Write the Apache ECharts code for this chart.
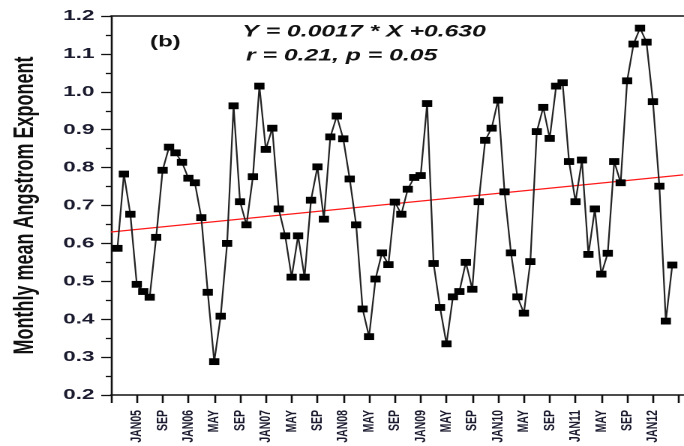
<!DOCTYPE html>
<html>
<head>
<meta charset="utf-8">
<script src="https://cdn.jsdelivr.net/npm/echarts@6/dist/echarts.min.js"></script>
<style>
  html, body { margin: 0; padding: 0; background: #fff; overflow: hidden; width: 684px; height: 446px; }
  #chart { width: 456px; height: 446px; transform: scaleX(1.5); transform-origin: 0 0; }
</style>
</head>
<body>
<div id="chart"></div>
<script>
// Monthly mean Angstrom Exponent (month index 1..87 from start of series)
const aeValues = [0.587,0.783,0.677,0.492,0.473,0.458,0.616,0.793,0.854,0.839,
  0.814,0.772,0.760,0.668,0.471,0.288,0.408,0.600,0.963,0.710,
  0.649,0.776,1.015,0.848,0.904,0.691,0.620,0.511,0.620,0.511,
  0.714,0.802,0.664,0.881,0.936,0.876,0.770,0.649,0.427,0.354,
  0.506,0.575,0.544,0.709,0.677,0.743,0.774,0.779,0.969,0.547,
  0.431,0.335,0.459,0.473,0.550,0.479,0.710,0.872,0.904,0.978,
  0.736,0.575,0.459,0.416,0.552,0.895,0.959,0.877,1.015,1.024,
  0.816,0.710,0.820,0.571,0.691,0.519,0.574,0.816,0.760,1.029,
  1.126,1.168,1.131,0.974,0.751,0.395,0.543];

// x tick labels at month index 4, 8, ..., 84
const tickLabels = ["JAN05","SEP","JAN06","MAY","SEP","JAN07","MAY","SEP","JAN08","MAY","SEP",
  "JAN09","MAY","SEP","JAN10","MAY","SEP","JAN11","MAY","SEP","JAN12"];
const tickStep = 4;
const xMax = 88.7;

// regression: Y = 0.0017 * X + 0.630
const regSlope = 0.0017;
const regIntercept = 0.630;

const seriesData = aeValues.map((v, i) => [i + 1, v]);
const regData = [[0, regIntercept], [xMax, regIntercept + regSlope * xMax]];

const tickVals = [];
for (let t = 0; t <= 88; t += tickStep) tickVals.push(t);
const labelVals = tickLabels.map((_, k) => (k + 1) * tickStep);

const chart = echarts.init(document.getElementById('chart'), null, { renderer: 'canvas', devicePixelRatio: 2 });
const FONT = '"Liberation Sans", Arial, sans-serif';

chart.setOption({
  animation: false,
  backgroundColor: '#fff',
  grid: { left: 71, top: 16, width: 384.5, height: 379, containLabel: false },
  xAxis: [{
    type: 'value', min: 0, max: xMax, interval: tickStep,
    axisLine: { show: true, onZero: false, lineStyle: { color: '#111', width: 1.5 } },
    axisTick: { show: true, inside: false, length: 8, lineStyle: { color: '#111', width: 1.3 }, customValues: tickVals },
    minorTick: { show: false },
    splitLine: { show: false },
    axisLabel: {
      customValues: labelVals,
      rotate: 90, margin: 15,
      fontFamily: FONT, fontWeight: 'bold', fontSize: 10.5, color: '#1b1b2f',
      showMaxLabel: true, showMinLabel: true, hideOverlap: false,
      formatter: function (v) {
        const k = Math.round(v / tickStep) - 1;
        if (Math.abs(v - (k + 1) * tickStep) > 1e-6) return '';
        return tickLabels[k] || '';
      }
    }
  }, {
    type: 'value', position: 'top', min: 0, max: xMax,
    axisLine: { show: true, onZero: false, lineStyle: { color: '#111', width: 1.5 } },
    axisTick: { show: false }, axisLabel: { show: false }, splitLine: { show: false }
  }],
  yAxis: {
    type: 'value', min: 0.2, max: 1.2, interval: 0.1,
    name: 'Monthly mean Angstrom Exponent',
    nameLocation: 'middle', nameGap: 48,
    nameTextStyle: { fontFamily: FONT, fontWeight: 'bold', fontSize: 18, color: '#111' },
    axisLine: { show: true, onZero: false, lineStyle: { color: '#111', width: 1.3 } },
    axisTick: { show: true, length: 6.5, lineStyle: { color: '#111', width: 1.3 } },
    minorTick: { show: true, splitNumber: 2, length: 3.5, lineStyle: { color: '#111', width: 1.3 } },
    splitLine: { show: false },
    axisLabel: {
      margin: 11, fontFamily: FONT, fontWeight: 'bold', fontSize: 15, color: '#1b1b2f',
      formatter: v => v.toFixed(1)
    }
  },
  graphic: [
    { type: 'text', z: 100, style: { text: '(b)', x: 100, y: 42, font: 'bold 16px ' + FONT, fill: '#111', align: 'left', verticalAlign: 'middle' } },
    { type: 'text', z: 100, style: { text: 'Y = 0.0017 * X +0.630', x: 161.5, y: 32, font: 'italic bold 16.5px ' + FONT, fill: '#111', align: 'left', verticalAlign: 'middle' } },
    { type: 'text', z: 100, style: { text: 'r = 0.21, p = 0.05', x: 164, y: 56, font: 'italic bold 16.5px ' + FONT, fill: '#111', align: 'left', verticalAlign: 'middle' } }
  ],
  series: [{
    type: 'line', name: 'regression', data: regData, z: 1,
    showSymbol: false, symbol: 'none',
    lineStyle: { color: '#ff1a1a', width: 1.3 }
  }, {
    type: 'line', name: 'AE', data: seriesData, z: 2,
    symbol: 'rect', symbolSize: [6.8, 6.8], showSymbol: true,
    itemStyle: { color: '#000' },
    lineStyle: { color: '#222', width: 1.1 }
  }]
});
</script>
</body>
</html>
